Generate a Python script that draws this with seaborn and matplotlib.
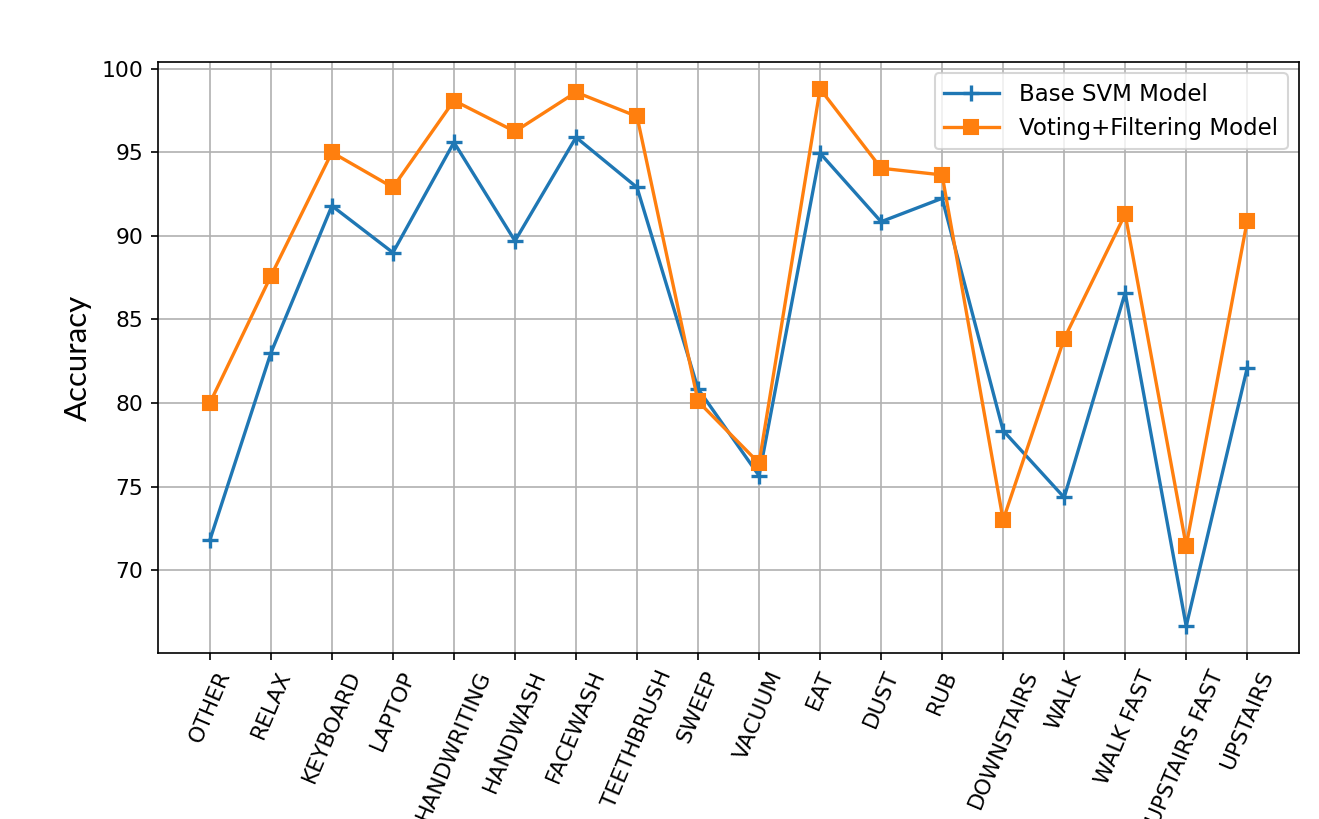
import matplotlib
matplotlib.use("Agg")
import matplotlib.pyplot as plt
import seaborn as sns
import pandas as pd

activities = [
    "OTHER", "RELAX", "KEYBOARD", "LAPTOP", "HANDWRITING", "HANDWASH",
    "FACEWASH", "TEETHBRUSH", "SWEEP", "VACUUM", "EAT", "DUST", "RUB",
    "DOWNSTAIRS", "WALK", "WALK FAST", "UPSTAIRS FAST", "UPSTAIRS",
]
base_svm = [
    71.8, 83.0, 91.8, 89.0, 95.6, 89.7, 95.9, 92.9, 80.85, 75.65,
    94.95, 90.85, 92.25, 78.35, 74.35, 86.6, 66.65, 82.1,
]
voting_filtering = [
    80.0, 87.6, 95.0, 92.9, 98.1, 96.25, 98.6, 97.15, 80.1, 76.4,
    98.8, 94.05, 93.65, 73.0, 83.85, 91.3, 71.45, 90.9,
]

df = pd.DataFrame({
    "activity": activities,
    "Base SVM Model": base_svm,
    "Voting+Filtering Model": voting_filtering,
})

blue = "#1f77b4"
orange = "#ff7f0e"

plt.style.use("default")
fig = plt.figure(figsize=(1319 / 150, 819 / 150), dpi=150)
ax = fig.add_axes([0.1198, 0.2027, 0.8651, 0.7216])

sns.lineplot(data=df, x="activity", y="Base SVM Model", ax=ax,
             color=blue, marker="+", markersize=7.5, markeredgewidth=1.6,
             markeredgecolor=blue, markerfacecolor=blue,
             linewidth=1.6, label="Base SVM Model", sort=False)
sns.lineplot(data=df, x="activity", y="Voting+Filtering Model", ax=ax,
             color=orange, marker="s", markersize=6.5, markeredgewidth=1,
             markeredgecolor=orange, markerfacecolor=orange,
             linewidth=1.6, label="Voting+Filtering Model", sort=False)

ax.grid(True, color="#b0b0b0", linewidth=0.8)
ax.set_axisbelow(True)
ax.set_xlabel("")
ax.set_ylabel("Accuracy", fontsize=15, family=["Lato", "DejaVu Sans"])
ax.yaxis.set_label_coords(-0.058, 0.5)
ax.set_yticks([70, 75, 80, 85, 90, 95, 100])
ax.tick_params(axis="both", labelsize=10.5)
plt.setp(ax.get_xticklabels(), rotation=67)
ax.legend(loc="upper right", fontsize=11, handlelength=2.4,
          handletextpad=0.9)

fig.savefig("out.png", dpi=150)
